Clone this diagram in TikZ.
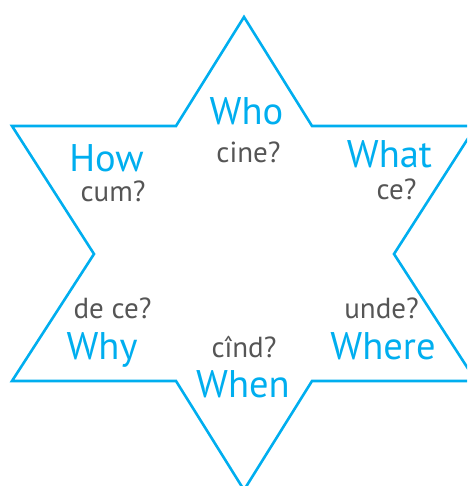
\documentclass[tikz,border=0pt]{standalone}
\usepackage{fontspec}
\setmainfont{PT Sans}
\definecolor{starblue}{HTML}{00AEEF}
\definecolor{txtgrey}{HTML}{555555}
\begin{document}
\begin{tikzpicture}[x=1pt,y=1pt,
  en/.style={anchor=base,text=starblue,font=\fontsize{38.5}{42}\selectfont,inner sep=0pt,text depth=0pt},
  ro/.style={anchor=base,text=txtgrey,font=\fontsize{29}{32}\selectfont,inner sep=0pt}]
\useasboundingbox (0,0) rectangle (467,486);
\begin{scope}
\clip (0,0) rectangle (467,486);
\draw[starblue,line width=2.6pt,line join=miter]
  (244,469) -- (312,360) -- (476,360) -- (394,232) -- (476,105) -- (312,105)
  -- (244,-4) -- (176,105) -- (12,105) -- (94,232) -- (12,360) -- (176,360) -- cycle;
\end{scope}
\node[en] (who) at (246.5,361) {Who};
\node[ro] (cine) at (248.5,323) {cine?};
\node[en] (how) at (106.5,314.5) {How};
\node[ro] (cum) at (113,284) {cum?};
\node[en] (what) at (389.5,318) {What};
\node[ro] (ce) at (396.5,286) {ce?};
\node[ro] (dece) at (112.5,167) {de ce?};
\node[en] (why) at (102,126) {Why};
\node[ro] (cind) at (244,128) {cînd?};
\node[en] (when) at (243,88) {When};
\node[ro] (unde) at (381.5,167) {unde?};
\node[en] (where) at (383,126) {Where};
\end{tikzpicture}
\end{document}
